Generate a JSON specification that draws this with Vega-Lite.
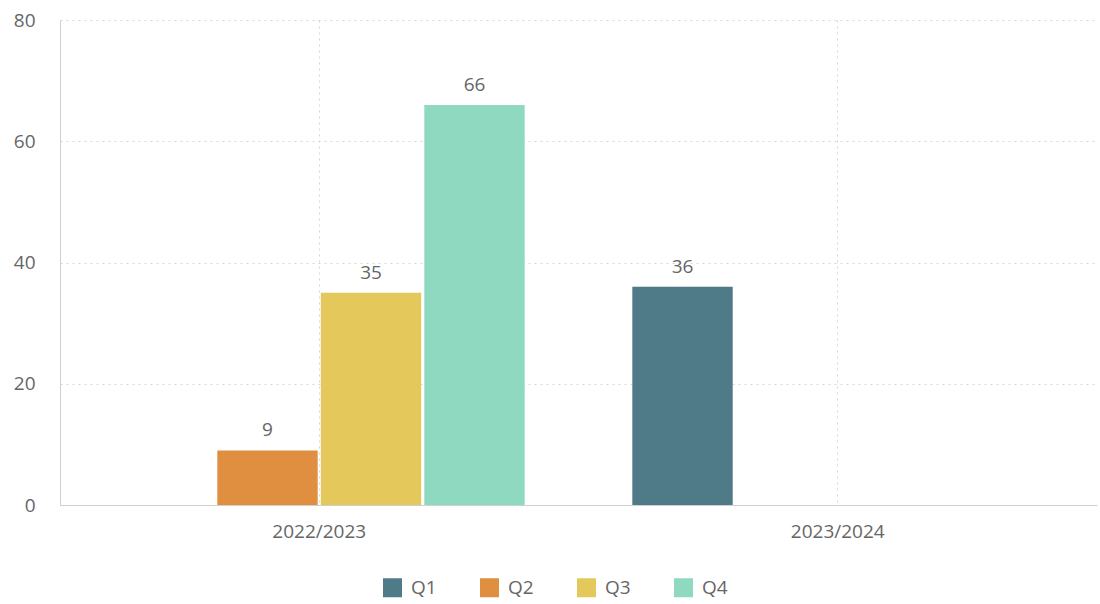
{
  "$schema": "https://vega.github.io/schema/vega-lite/v6.json",
  "width": 1037,
  "height": 485,
  "autosize": {"type": "none"},
  "padding": {"left": 60, "top": 20, "right": 3, "bottom": 99},
  "config": {
    "font": "Open Sans",
    "view": {"stroke": null},
    "axis": {"labelColor": "#666666", "labelFontSize": 19, "ticks": false, "domainColor": "#d0d0d0", "gridColor": "#d6d6d6", "gridDash": [2, 4], "title": null}
  },
  "data": {
    "values": [
      {"year": "2022/2023", "quarter": "Q2", "value": 9},
      {"year": "2022/2023", "quarter": "Q3", "value": 35},
      {"year": "2022/2023", "quarter": "Q4", "value": 66},
      {"year": "2023/2024", "quarter": "Q1", "value": 36}
    ]
  },
  "encoding": {
    "x": {
      "field": "year", "type": "nominal",
      "scale": {"paddingInner": 0, "paddingOuter": 0},
      "axis": {"labelAngle": 0, "labelPadding": 17, "grid": true, "bandPosition": 0.5, "domainColor": "#d0d0d0"}
    },
    "xOffset": {
      "field": "quarter", "type": "nominal",
      "scale": {"domain": ["Q1", "Q2", "Q3", "Q4"], "paddingInner": 0.03, "paddingOuter": 0.52}
    },
    "y": {
      "field": "value", "type": "quantitative",
      "scale": {"domain": [0, 80]},
      "axis": {"values": [0, 20, 40, 60, 80], "labelPadding": 25, "grid": true}
    }
  },
  "layer": [
    {
      "mark": {"type": "bar"},
      "encoding": {
        "color": {
          "field": "quarter", "type": "nominal",
          "scale": {"domain": ["Q1", "Q2", "Q3", "Q4"], "range": ["#4f7a87", "#e08e3f", "#e4c85c", "#8fd9c1"]},
          "legend": {
            "title": null, "orient": "none", "direction": "horizontal",
            "legendX": 323, "legendY": 558, "padding": 0,
            "symbolType": "square", "symbolSize": 361, "symbolStrokeWidth": 0,
            "labelFontSize": 19, "labelColor": "#666666", "labelOffset": 9,
            "columnPadding": 43
          }
        }
      }
    },
    {
      "mark": {"type": "text", "baseline": "bottom", "dy": -10, "fontSize": 19, "color": "#666666"},
      "encoding": {"text": {"field": "value", "type": "quantitative"}}
    }
  ]
}
